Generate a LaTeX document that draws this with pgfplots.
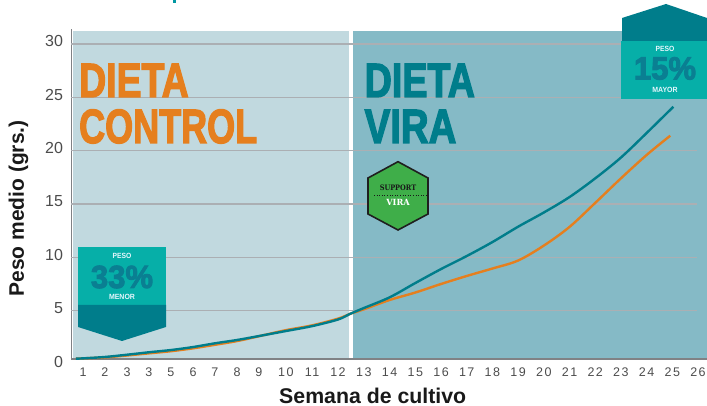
\documentclass[border=0pt]{standalone}
\usepackage{pgfplots}
\pgfplotsset{compat=1.18}
\usepackage{fontspec}
\setmainfont{Liberation Sans}
\newfontfamily\tickfont[LetterSpace=12]{Liberation Sans}
\newfontfamily\heavy[FakeBold=3]{Liberation Sans Bold}
\newfontfamily\slab{DejaVu Serif Bold}
\definecolor{panelL}{HTML}{C1D9DF}
\definecolor{panelR}{HTML}{85BAC6}
\definecolor{gridc}{HTML}{ABAFB3}
\definecolor{spine}{HTML}{808285}
\definecolor{tealc}{HTML}{007D8B}
\definecolor{orangec}{HTML}{E57F1E}
\definecolor{badge}{HTML}{06AFA8}
\definecolor{hexg}{HTML}{3FAE49}
\definecolor{pct}{HTML}{0A7F92}
\begin{document}
\begin{tikzpicture}[x=1pt,y=1pt]
\path[use as bounding box] (0,0) rectangle (707,406);
% panels
\fill[panelL] (72.5,47) rectangle (349,375);
\fill[panelR] (353,47) rectangle (707,375);
% cropped title fragment
\fill[tealc!80!cyan] (172.5,402.5) rectangle (175.5,406);
\begin{axis}[
  at={(71.5pt,47pt)}, anchor=south west,
  scale only axis, width=635.5pt, height=330pt,
  xmin=1.62, xmax=26.35, ymin=0.47, ymax=31.4,
  axis x line=bottom, axis y line=left,
  axis line style={-, draw=spine, line width=1.2pt},
  xtick={2.07,2.92,3.78,4.63,5.49,6.35,7.20,8.06,8.91,9.96,10.98,11.99,13,14,15,16,17,18,19,20,21,22,23,24,25,26},
  xticklabels={1,2,3,3,5,6,7,8,9,10,11,12,13,14,15,16,17,18,19,20,21,22,23,24,25,26},
  ytick={5,10,15,20,25,30},
  yticklabels={5,10,15,20,25,30},
  extra y ticks={0.47}, extra y tick labels={0},
  extra y tick style={yticklabel style={yshift=-5.2pt}},
  major tick length=0pt,
  xticklabel style={font=\tickfont\fontsize{12.5}{14}\selectfont, text=black!70, yshift=-5.5pt},
  yticklabel style={font=\fontsize{16}{18}\selectfont, text=black!70, yshift=2.5pt, xshift=-5pt},
  xlabel={\bfseries Semana de cultivo},
  ylabel={\bfseries Peso medio (grs.)},
  xlabel style={at={(rel axis cs:0.474,0)}, anchor=center, inner sep=0pt, yshift=-37pt, font=\fontsize{21.3}{24}\selectfont, text=black!90},
  ylabel style={at={(rel axis cs:0,0.456)}, anchor=center, inner sep=0pt, yshift=53pt, font=\fontsize{21}{24}\selectfont, text=black!90},
  clip=false,
]
\pgfplotsinvokeforeach{5,10,15,20,25,30}{
  \draw[gridc, line width=1.2pt] (axis cs:1.62,#1) -- (axis cs:25.97,#1);
}
\addplot[orangec, line width=2.4pt, smooth, tension=0.55] coordinates {
(1.79,0.50)(2.07,0.53)(2.92,0.62)(3.78,0.80)(4.63,1.00)(5.49,1.20)(6.35,1.47)(7.20,1.80)(8.06,2.15)(8.91,2.60)(9.96,3.17)(10.98,3.62)(11.99,4.25)(12.45,4.69)(13,5.13)(14,6.00)(15,6.70)(16,7.50)(17,8.25)(18,8.95)(19,9.70)(20,11.10)(21,12.85)(22,15.10)(23,17.40)(24,19.59)(24.92,21.40)};
\addplot[tealc, line width=2.4pt, smooth, tension=0.55] coordinates {
(1.79,0.50)(2.07,0.53)(2.92,0.66)(3.78,0.87)(4.63,1.10)(5.49,1.31)(6.35,1.59)(7.20,1.94)(8.06,2.25)(8.91,2.62)(9.96,3.09)(10.98,3.55)(11.99,4.17)(12.45,4.69)(13,5.25)(14,6.25)(15,7.59)(16,8.90)(17,10.12)(18,11.43)(19,12.87)(20,14.20)(21,15.65)(22,17.40)(23,19.35)(24,21.65)(25.04,24.11)};
\end{axis}
% headings
\begin{scope}[every node/.style={inner sep=0pt, anchor=base west}]
\node[text=orangec, xscale=.78] at (79,309) {\heavy\fontsize{48}{50}\selectfont DIETA};
\node[text=orangec, xscale=.75] at (79,263) {\heavy\fontsize{48}{50}\selectfont CONTROL};
\node[text=tealc, xscale=.785] at (364.5,309) {\heavy\fontsize{48}{50}\selectfont DIETA};
\node[text=tealc, xscale=.80] at (364.5,263) {\heavy\fontsize{48}{50}\selectfont VIRA};
\end{scope}
% badge 33%
\fill[badge] (78,159) rectangle (166,101);
\fill[tealc] (78,101) -- (166,101) -- (166,79) -- (122,65) -- (78,79) -- cycle;
\node[text=white!90!cyan, inner sep=0pt, xscale=.9] at (122,150) {\bfseries\fontsize{7.5}{8}\selectfont PESO};
\node[text=pct, inner sep=0pt, xscale=.97] at (122,129) {\heavy\fontsize{32}{33}\selectfont 33\%};
\node[text=white!90!cyan, inner sep=0pt, xscale=.93] at (122,109) {\bfseries\fontsize{7.5}{8}\selectfont MENOR};
% badge 15%
\fill[badge] (621,365) rectangle (707,307);
\fill[tealc] (622,365) -- (707,365) -- (707,388) -- (666,402) -- (622,388) -- cycle;
\node[text=white!90!cyan, inner sep=0pt, xscale=.9] at (665,357) {\bfseries\fontsize{7.5}{8}\selectfont PESO};
\node[text=pct, inner sep=0pt, xscale=.97] at (665,337.5) {\heavy\fontsize{32}{33}\selectfont 15\%};
\node[text=white!90!cyan, inner sep=0pt, xscale=.93] at (665,316) {\bfseries\fontsize{7.5}{8}\selectfont MAYOR};
% hexagon
\draw[fill=hexg, draw=black!88, line width=1.6pt, line join=miter] (398,244.3) -- (428,228) -- (428,192) -- (398,176) -- (368,192) -- (368,228) -- cycle;
\draw[black!90, line width=.6pt, dotted] (374,211) -- (427,211);
\node[text=black!90, inner sep=0pt, xscale=.88] at (398,218) {\slab\fontsize{7.5}{8}\selectfont SUPPORT};
\node[text=white, inner sep=0pt, xscale=.97] at (398,203.5) {\slab\fontsize{8.5}{9}\selectfont VIRA};
\end{tikzpicture}
\end{document}
